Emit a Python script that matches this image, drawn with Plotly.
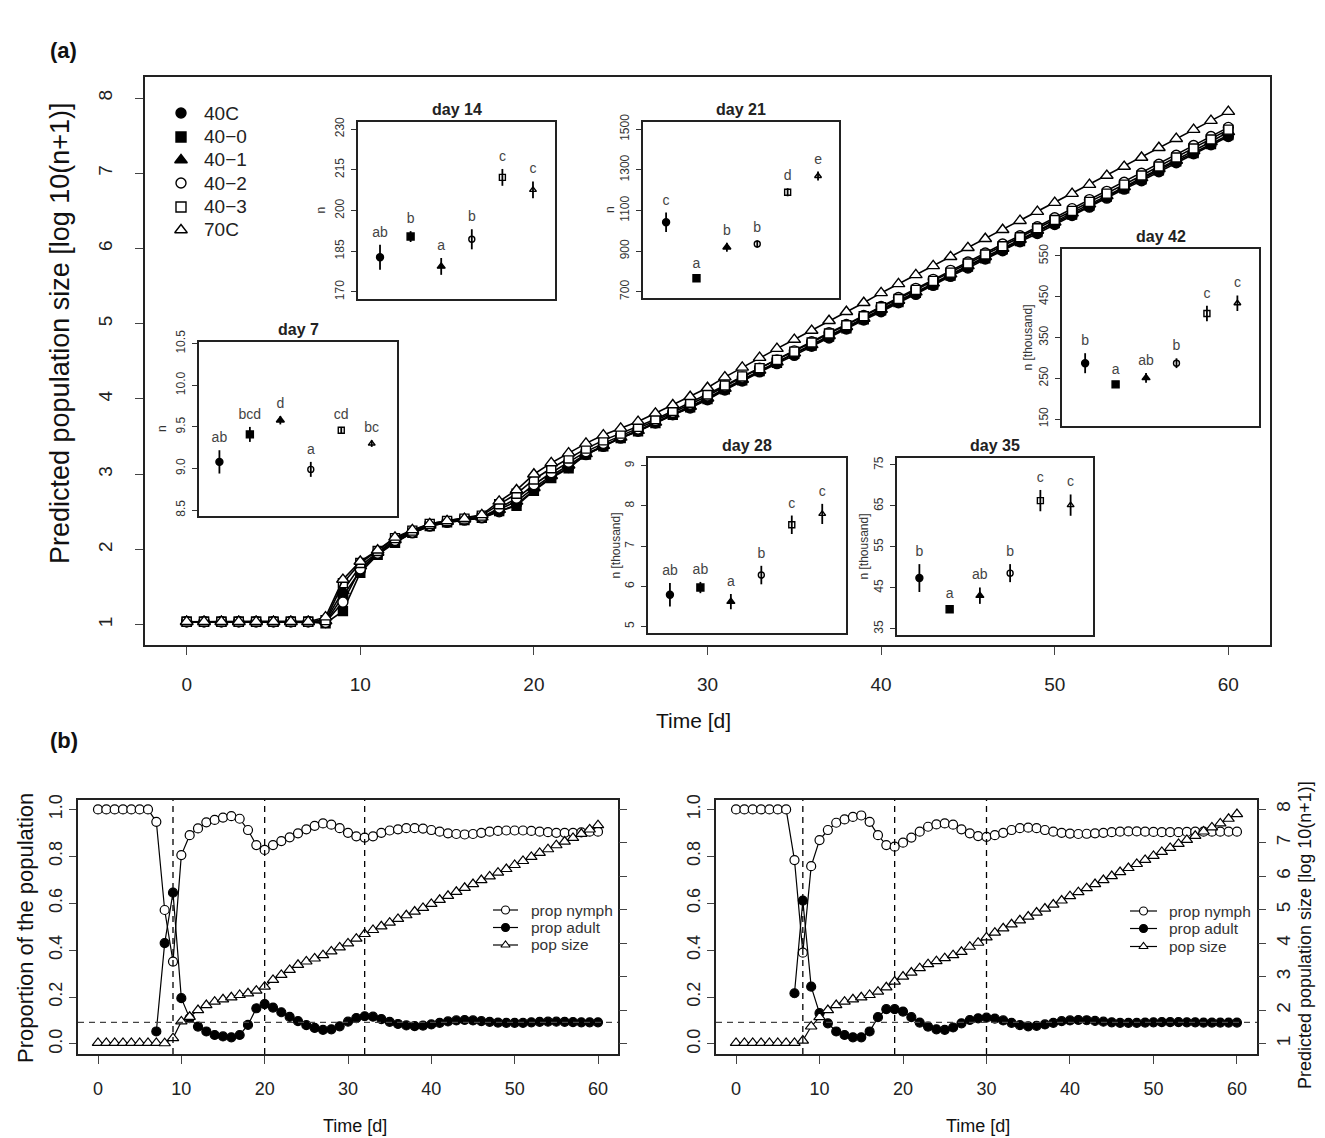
import plotly.graph_objects as go

W, H = 1325, 1138
FONT = "Liberation Sans, Arial, Helvetica, sans-serif"

def px(xp):
    return xp / W

def py(yp):
    return 1 - yp / H

# ---------------- data: panel (a) main curves ----------------
days = list(range(61))
treatments = ["40C", "40-0", "40-1", "40-2", "40-3", "70C"]
legend_labels = ["40C", "40\u22120", "40\u22121", "40\u22122", "40\u22123", "70C"]
symbols = ["circle", "square", "triangle-up", "circle", "square", "triangle-up"]
is_filled = [True, True, True, False, False, False]
main_marker_size = {"circle": 10, "square": 9, "triangle-up": 11}

pop_40C = [1.04, 1.04, 1.04, 1.04, 1.04, 1.04, 1.04, 1.04, 1.03, 1.38, 1.72, 1.94, 2.10, 2.22, 2.31, 2.36, 2.39, 2.42, 2.50, 2.60, 2.79, 2.96, 3.09, 3.26, 3.37, 3.48, 3.57, 3.68, 3.79, 3.88, 3.99, 4.12, 4.24, 4.36, 4.47, 4.58, 4.70, 4.81, 4.93, 5.05, 5.16, 5.28, 5.39, 5.51, 5.63, 5.74, 5.86, 5.97, 6.09, 6.20, 6.32, 6.44, 6.55, 6.67, 6.79, 6.90, 7.02, 7.14, 7.26, 7.38, 7.49]
pop_40_0 = [1.04, 1.04, 1.04, 1.04, 1.04, 1.04, 1.04, 1.04, 1.02, 1.18, 1.69, 1.93, 2.09, 2.22, 2.31, 2.36, 2.39, 2.42, 2.51, 2.58, 2.78, 2.95, 3.08, 3.26, 3.37, 3.48, 3.57, 3.68, 3.79, 3.89, 4.00, 4.13, 4.25, 4.37, 4.48, 4.60, 4.71, 4.83, 4.94, 5.06, 5.18, 5.29, 5.41, 5.52, 5.64, 5.76, 5.87, 5.99, 6.10, 6.22, 6.34, 6.45, 6.57, 6.69, 6.80, 6.92, 7.04, 7.16, 7.27, 7.39, 7.51]
pop_40_1 = [1.04, 1.04, 1.04, 1.04, 1.04, 1.04, 1.04, 1.04, 1.05, 1.45, 1.78, 1.96, 2.13, 2.24, 2.32, 2.37, 2.40, 2.43, 2.53, 2.64, 2.82, 2.98, 3.12, 3.27, 3.38, 3.49, 3.58, 3.69, 3.80, 3.90, 4.01, 4.14, 4.26, 4.38, 4.49, 4.61, 4.72, 4.84, 4.96, 5.07, 5.19, 5.31, 5.42, 5.54, 5.66, 5.77, 5.89, 6.00, 6.12, 6.24, 6.35, 6.47, 6.59, 6.70, 6.82, 6.94, 7.06, 7.17, 7.30, 7.42, 7.55]
pop_40_2 = [1.04, 1.04, 1.04, 1.04, 1.04, 1.04, 1.04, 1.04, 1.03, 1.30, 1.74, 1.95, 2.12, 2.23, 2.32, 2.37, 2.40, 2.43, 2.55, 2.68, 2.86, 3.02, 3.16, 3.30, 3.41, 3.51, 3.60, 3.71, 3.82, 3.93, 4.04, 4.17, 4.29, 4.41, 4.52, 4.64, 4.76, 4.88, 4.99, 5.11, 5.23, 5.35, 5.47, 5.59, 5.71, 5.82, 5.94, 6.06, 6.17, 6.29, 6.41, 6.53, 6.65, 6.76, 6.88, 7.00, 7.12, 7.24, 7.37, 7.49, 7.61]
pop_40_3 = [1.04, 1.04, 1.04, 1.04, 1.04, 1.04, 1.04, 1.04, 1.06, 1.55, 1.82, 1.98, 2.15, 2.25, 2.34, 2.38, 2.41, 2.45, 2.60, 2.74, 2.93, 3.08, 3.21, 3.34, 3.45, 3.54, 3.63, 3.73, 3.84, 3.95, 4.06, 4.18, 4.30, 4.41, 4.52, 4.63, 4.75, 4.87, 4.98, 5.10, 5.22, 5.33, 5.45, 5.57, 5.68, 5.80, 5.92, 6.03, 6.15, 6.27, 6.38, 6.50, 6.62, 6.73, 6.85, 6.97, 7.09, 7.21, 7.33, 7.45, 7.58]
pop_70C = [1.04, 1.04, 1.04, 1.04, 1.04, 1.04, 1.04, 1.04, 1.10, 1.60, 1.84, 1.99, 2.16, 2.26, 2.34, 2.38, 2.41, 2.46, 2.64, 2.79, 3.00, 3.15, 3.28, 3.41, 3.52, 3.61, 3.70, 3.81, 3.92, 4.03, 4.15, 4.29, 4.42, 4.55, 4.67, 4.79, 4.91, 5.04, 5.16, 5.28, 5.41, 5.53, 5.65, 5.77, 5.89, 6.01, 6.13, 6.25, 6.37, 6.49, 6.61, 6.73, 6.85, 6.97, 7.09, 7.21, 7.34, 7.46, 7.58, 7.70, 7.82]
main_series = [pop_40C, pop_40_0, pop_40_1, pop_40_2, pop_40_3, pop_70C]

# ---------------- data: insets ----------------
inset_x = [1, 2, 3, 4, 5, 6]
day7_n = [9.08, 9.41, 9.58, 8.99, 9.46, 9.30]
day7_err = [0.14, 0.09, 0.05, 0.09, 0.04, 0.04]
day7_letters = ["ab", "bcd", "d", "a", "cd", "bc"]
day7_ticks = [8.5, 9.0, 9.5, 10.0, 10.5]
day7_ticktext = ["8.5", "9.0", "9.5", "10.0", "10.5"]

day14_n = [182.8, 190.4, 179.4, 189.4, 212.2, 207.6]
day14_err = [4.6, 2.0, 3.1, 3.7, 3.1, 3.1]
day14_letters = ["ab", "b", "a", "b", "c", "c"]
day14_ticks = [170, 185, 200, 215, 230]

day21_n = [1042, 766, 919, 935, 1190, 1270]
day21_err = [48, 10, 22, 18, 20, 22]
day21_letters = ["c", "a", "b", "b", "d", "e"]
day21_ticks = [700, 900, 1100, 1300, 1500]

day28_n = [5.79, 5.97, 5.62, 6.28, 7.53, 7.80]
day28_err = [0.29, 0.14, 0.19, 0.23, 0.23, 0.25]
day28_letters = ["ab", "ab", "a", "b", "c", "c"]
day28_ticks = [5, 6, 7, 8, 9]

day35_n = [47.4, 39.8, 43.1, 48.6, 66.3, 65.2]
day35_err = [3.4, 0.8, 2.0, 2.2, 2.6, 2.6]
day35_letters = ["b", "a", "ab", "b", "c", "c"]
day35_ticks = [35, 45, 55, 65, 75]

day42_n = [287, 235, 251, 287, 409, 434]
day42_err = [24.5, 7, 12, 12, 19, 19]
day42_letters = ["b", "a", "ab", "b", "c", "c"]
day42_ticks = [150, 250, 350, 450, 550]

# ---------------- data: panel (b) ----------------
nymph_left = [1.0, 1.0, 1.0, 1.0, 1.0, 1.0, 1.0, 0.947, 0.571, 0.351, 0.805, 0.89, 0.919, 0.945, 0.955, 0.965, 0.971, 0.96, 0.912, 0.848, 0.827, 0.848, 0.865, 0.881, 0.898, 0.915, 0.93, 0.94, 0.935, 0.92, 0.90, 0.885, 0.88, 0.885, 0.90, 0.91, 0.915, 0.92, 0.92, 0.918, 0.912, 0.905, 0.898, 0.895, 0.893, 0.895, 0.90, 0.905, 0.908, 0.91, 0.91, 0.91, 0.908, 0.905, 0.903, 0.90, 0.90, 0.90, 0.902, 0.905, 0.905]
adult_days = list(range(7, 61))
adult_left = [0.053, 0.43, 0.645, 0.195, 0.11, 0.074, 0.053, 0.038, 0.032, 0.028, 0.038, 0.081, 0.152, 0.17, 0.155, 0.135, 0.115, 0.097, 0.08, 0.068, 0.06, 0.062, 0.075, 0.095, 0.11, 0.118, 0.116, 0.106, 0.094, 0.085, 0.079, 0.076, 0.078, 0.083, 0.09, 0.096, 0.1, 0.102, 0.1, 0.097, 0.094, 0.091, 0.09, 0.09, 0.09, 0.092, 0.094, 0.095, 0.095, 0.094, 0.093, 0.092, 0.092, 0.092]
popsize_left = [1.03, 1.03, 1.03, 1.03, 1.03, 1.03, 1.03, 1.03, 1.02, 1.17, 1.67, 1.81, 2.01, 2.16, 2.26, 2.33, 2.39, 2.46, 2.51, 2.59, 2.71, 2.91, 3.06, 3.21, 3.36, 3.46, 3.55, 3.65, 3.76, 3.88, 4.00, 4.14, 4.28, 4.40, 4.51, 4.62, 4.73, 4.84, 4.95, 5.06, 5.18, 5.30, 5.42, 5.54, 5.66, 5.77, 5.89, 6.00, 6.11, 6.22, 6.34, 6.46, 6.58, 6.70, 6.81, 6.93, 7.04, 7.15, 7.27, 7.40, 7.53]
vlines_left = [9, 20, 32]

nymph_right = [1.0, 1.0, 1.0, 1.0, 1.0, 1.0, 1.0, 0.784, 0.389, 0.758, 0.869, 0.912, 0.943, 0.957, 0.968, 0.974, 0.947, 0.89, 0.848, 0.841, 0.858, 0.88, 0.905, 0.926, 0.936, 0.94, 0.935, 0.915, 0.898, 0.886, 0.883, 0.89, 0.90, 0.912, 0.92, 0.922, 0.92, 0.912, 0.905, 0.90, 0.897, 0.895, 0.896, 0.898, 0.90, 0.903, 0.905, 0.906, 0.906, 0.905, 0.904, 0.903, 0.903, 0.903, 0.904, 0.905, 0.905, 0.905, 0.905, 0.905, 0.905]
adult_right = [0.216, 0.611, 0.244, 0.131, 0.088, 0.053, 0.038, 0.028, 0.028, 0.053, 0.114, 0.148, 0.148, 0.138, 0.114, 0.091, 0.074, 0.062, 0.06, 0.07, 0.088, 0.102, 0.109, 0.112, 0.108, 0.10, 0.09, 0.08, 0.075, 0.077, 0.083, 0.09, 0.097, 0.10, 0.102, 0.101, 0.098, 0.095, 0.092, 0.09, 0.09, 0.09, 0.091, 0.092, 0.093, 0.093, 0.093, 0.092, 0.092, 0.091, 0.091, 0.091, 0.091, 0.091]
popsize_right = [1.03, 1.03, 1.03, 1.03, 1.03, 1.03, 1.03, 1.03, 1.10, 1.52, 1.80, 2.01, 2.16, 2.26, 2.33, 2.39, 2.46, 2.56, 2.69, 2.86, 3.01, 3.13, 3.26, 3.38, 3.47, 3.56, 3.65, 3.75, 3.90, 4.02, 4.18, 4.32, 4.45, 4.57, 4.69, 4.80, 4.92, 5.04, 5.16, 5.28, 5.41, 5.53, 5.65, 5.77, 5.89, 6.01, 6.13, 6.25, 6.37, 6.49, 6.61, 6.73, 6.85, 6.97, 7.09, 7.21, 7.34, 7.46, 7.58, 7.72, 7.86]
vlines_right = [8, 19, 30]
adult_equilibrium = 0.092

bottom_labels = ["prop nymph", "prop adult", "pop size"]
bottom_symbols = ["circle", "circle", "triangle-up"]
bottom_fill = ["white", "black", "white"]

prop_ticks = [0.0, 0.2, 0.4, 0.6, 0.8, 1.0]
prop_ticktext = ["0.0", "0.2", "0.4", "0.6", "0.8", "1.0"]
pop_ticks = [1, 2, 3, 4, 5, 6, 7, 8]
time_ticks = [0, 10, 20, 30, 40, 50, 60]

fig = go.Figure()
annotations = []
layout_axes = {}

# ---------------- main curves ----------------
for name, sym, filled, vals in zip(treatments, symbols, is_filled, main_series):
    fig.add_trace(go.Scatter(
        x=days, y=vals, mode="lines+markers", showlegend=False, name=name,
        line=dict(color="black", width=1.6),
        marker=dict(symbol=sym, size=main_marker_size[sym],
                    color="black" if filled else "white",
                    line=dict(color="black", width=1.4)),
        xaxis="x", yaxis="y"))

# ---------------- insets ----------------
insets = [
    ("day 7", day7_n, day7_err, day7_letters, [199, 397, 342, 516], [0.33, 6.83], [8.43, 10.52], day7_ticks, day7_ticktext, "n", 162),
    ("day 14", day14_n, day14_err, day14_letters, [358, 555, 122, 299], [0.28, 6.72], [167.4, 232.6], day14_ticks, None, "n", 320),
    ("day 21", day21_n, day21_err, day21_letters, [643, 839, 122, 298], [0.24, 6.69], [669, 1536], day21_ticks, None, "n", 610),
    ("day 28", day28_n, day28_err, day28_letters, [648, 846, 458, 633], [0.28, 6.78], [4.84, 9.19], day28_ticks, None, "n [thousand]", 615),
    ("day 35", day35_n, day35_err, day35_letters, [897, 1093, 458, 635], [0.26, 6.74], [33.5, 76.7], day35_ticks, None, "n [thousand]", 863),
    ("day 42", day42_n, day42_err, day42_letters, [1062, 1259, 249, 426], [0.24, 6.71], [133, 567], day42_ticks, None, "n [thousand]", 1028),
]

for i, (lab, vals, err, letters, box, xr, yr, ticks, ticktext, ytitle, ytx) in enumerate(insets):
    k = i + 2
    xa, ya = "x%d" % k, "y%d" % k
    for j in range(6):
        fig.add_trace(go.Scatter(
            x=[inset_x[j]], y=[vals[j]], mode="markers", showlegend=False,
            error_y=dict(type="data", array=[err[j]], width=0, thickness=1.8, color="black"),
            marker=dict(symbol=symbols[j] if is_filled[j] else symbols[j] + "-open",
                        size=7 if is_filled[j] else 6, color="black",
                        line=dict(color="black", width=1.4)),
            xaxis=xa, yaxis=ya))
    span = yr[1] - yr[0]
    fig.add_trace(go.Scatter(
        x=inset_x, y=[v + e + 0.065 * span for v, e in zip(vals, err)],
        mode="text", text=letters, showlegend=False,
        textfont=dict(size=14, color="#444444", family=FONT),
        textposition="middle center", xaxis=xa, yaxis=ya))
    layout_axes["xaxis%d" % k] = dict(
        domain=[px(box[0]), px(box[1])], range=xr, anchor=ya,
        showticklabels=False, ticks="", showgrid=False, zeroline=False,
        showline=True, mirror=True, linecolor="#222", linewidth=1.6)
    yd = dict(
        domain=[py(box[3]), py(box[2])], range=yr, anchor=xa,
        tickvals=ticks, tickangle=-90, ticks="outside", ticklen=5, tickwidth=1,
        tickcolor="#333", showgrid=False, zeroline=False,
        showline=True, mirror=True, linecolor="#222", linewidth=1.6,
        tickfont=dict(size=12, color="#333", family=FONT), ticklabelstandoff=2)
    if ticktext is not None:
        yd["ticktext"] = ticktext
    layout_axes["yaxis%d" % k] = yd
    annotations.append(dict(
        text="<b>%s</b>" % lab, x=px((box[0] + box[1]) / 2), y=py(box[2] - 2),
        xref="paper", yref="paper", xanchor="center", yanchor="bottom",
        showarrow=False, font=dict(size=16, color="#222", family=FONT)))
    annotations.append(dict(
        text=ytitle, x=px(ytx), y=py((box[2] + box[3]) / 2), textangle=-90,
        xref="paper", yref="paper", xanchor="center", yanchor="middle",
        showarrow=False, font=dict(size=12, color="#333", family=FONT)))

# ---------------- panel (b) ----------------
def add_bottom(xa, ya_prop, ya_pop, nymph, adult, popsize):
    fig.add_trace(go.Scatter(
        x=days, y=nymph, mode="lines+markers", showlegend=False,
        line=dict(color="black", width=1.2),
        marker=dict(symbol="circle", size=9, color="white", line=dict(color="black", width=1.2)),
        xaxis=xa, yaxis=ya_prop))
    fig.add_trace(go.Scatter(
        x=adult_days, y=adult, mode="lines+markers", showlegend=False,
        line=dict(color="black", width=1.2),
        marker=dict(symbol="circle", size=9, color="black", line=dict(color="black", width=1.2)),
        xaxis=xa, yaxis=ya_prop))
    fig.add_trace(go.Scatter(
        x=days, y=popsize, mode="lines+markers", showlegend=False,
        line=dict(color="black", width=1.2),
        marker=dict(symbol="triangle-up", size=10, color="white", line=dict(color="black", width=1.2)),
        xaxis=xa, yaxis=ya_pop))

add_bottom("x8", "y8", "y9", nymph_left, adult_left, popsize_left)
add_bottom("x9", "y10", "y11", nymph_right, adult_right, popsize_right)

shapes = []
for xa, ya, vl in [("x8", "y8", vlines_left), ("x9", "y10", vlines_right)]:
    for v in vl:
        shapes.append(dict(type="line", xref=xa, yref=ya + " domain", x0=v, x1=v, y0=0, y1=1,
                           line=dict(color="black", width=1.3, dash="6px,5px")))
    shapes.append(dict(type="line", xref=xa + " domain", yref=ya, x0=0, x1=1,
                       y0=adult_equilibrium, y1=adult_equilibrium,
                       line=dict(color="#444", width=1.3, dash="6px,5px")))

# ---------------- legends (keys drawn on a hidden full-page pixel axis) ----------------
main_leg_rows = [113, 137, 160, 183, 207, 230]
for lab, sym, filled, ry in zip(legend_labels, symbols, is_filled, main_leg_rows):
    fig.add_trace(go.Scatter(
        x=[181], y=[ry], mode="markers", showlegend=False,
        marker=dict(symbol=sym if filled else sym + "-open", size=10 if sym != "triangle-up" else 11,
                    color="black", line=dict(color="black", width=1.4)),
        xaxis="x10", yaxis="y12", hoverinfo="skip"))
    annotations.append(dict(text=lab, x=px(202), y=py(ry), xref="paper", yref="paper",
                            xanchor="left", yanchor="middle", showarrow=False,
                            font=dict(size=19, color="#222", family=FONT)))

for (x0, x1, tx, rows) in [(493, 518, 529, [910, 927.5, 945]), (1130, 1157, 1167, [911, 928.5, 946.5])]:
    for lab, sym, fill, ry in zip(bottom_labels, bottom_symbols, bottom_fill, rows):
        fig.add_trace(go.Scatter(
            x=[x0, x1], y=[ry, ry], mode="lines", showlegend=False,
            line=dict(color="black", width=1.2), xaxis="x10", yaxis="y12", hoverinfo="skip"))
        fig.add_trace(go.Scatter(
            x=[(x0 + x1) / 2], y=[ry], mode="markers", showlegend=False,
            marker=dict(symbol=sym, size=8, color=fill, line=dict(color="black", width=1.1)),
            xaxis="x10", yaxis="y12", hoverinfo="skip"))
        annotations.append(dict(text=lab, x=px(tx), y=py(ry), xref="paper", yref="paper",
                                xanchor="left", yanchor="middle", showarrow=False,
                                font=dict(size=15.5, color="#333", family=FONT)))

layout_axes["xaxis10"] = dict(domain=[0, 1], range=[0, W], visible=False, anchor="y12",
                              fixedrange=True)
layout_axes["yaxis12"] = dict(domain=[0, 1], range=[H, 0], visible=False, anchor="x10",
                              fixedrange=True)

prop_range = [-0.043, 1.04]
pop_range = [1 + 7 * prop_range[0], 1 + 7 * prop_range[1]]

common_x_bottom = dict(range=[-2.4, 62.4], tickvals=time_ticks, ticks="outside", ticklen=8,
                       tickwidth=1.2, showgrid=False, zeroline=False, showline=True, mirror=True,
                       linecolor="#222", linewidth=1.7,
                       tickfont=dict(size=18, color="#222", family=FONT), ticklabelstandoff=10)

layout_axes["xaxis8"] = dict(domain=[px(78), px(618)], anchor="y8", **common_x_bottom)
layout_axes["yaxis8"] = dict(domain=[py(1054), py(800)], anchor="x8", range=prop_range,
                             tickvals=prop_ticks, ticktext=prop_ticktext, tickangle=-90,
                             ticks="outside", ticklen=7, tickwidth=1.2, showgrid=False,
                             zeroline=False, showline=True, mirror=True, linecolor="#222",
                             linewidth=1.7, tickfont=dict(size=18, color="#222", family=FONT),
                             ticklabelstandoff=0)
layout_axes["yaxis9"] = dict(overlaying="y8", anchor="x8", side="right", range=pop_range,
                             tickvals=pop_ticks, showticklabels=False, ticks="outside",
                             ticklen=8, tickwidth=1.2, showgrid=False, zeroline=False,
                             showline=False)
layout_axes["xaxis9"] = dict(domain=[px(716), px(1257)], anchor="y10", **common_x_bottom)
layout_axes["yaxis10"] = dict(domain=[py(1054), py(800)], anchor="x9", range=prop_range,
                              tickvals=prop_ticks, ticktext=prop_ticktext, tickangle=-90,
                              ticks="outside", ticklen=7, tickwidth=1.2, showgrid=False,
                              zeroline=False, showline=True, mirror=True, linecolor="#222",
                              linewidth=1.7, tickfont=dict(size=18, color="#222", family=FONT),
                              ticklabelstandoff=0)
layout_axes["yaxis11"] = dict(overlaying="y10", anchor="x9", side="right", range=pop_range,
                              tickvals=pop_ticks, tickangle=-90, ticks="outside",
                              ticklen=8, tickwidth=1.2, showgrid=False, zeroline=False,
                              showline=False, tickfont=dict(size=19, color="#222", family=FONT),
                              ticklabelstandoff=1)

# ---------------- main axes ----------------
layout_axes["xaxis"] = dict(domain=[px(145), px(1270)], range=[-2.4, 62.4], anchor="y",
                            tickvals=time_ticks, ticks="outside", ticklen=8, tickwidth=1.2,
                            showgrid=False, zeroline=False, showline=True, mirror=True,
                            linecolor="#222", linewidth=1.9,
                            tickfont=dict(size=19, color="#222", family=FONT), ticklabelstandoff=13)
layout_axes["yaxis"] = dict(domain=[py(645), py(77)], range=[0.73, 8.28], anchor="x",
                            tickvals=pop_ticks, tickangle=-90, ticks="outside", ticklen=8,
                            tickwidth=1.2, showgrid=False, zeroline=False, showline=True,
                            mirror=True, linecolor="#222", linewidth=1.9,
                            tickfont=dict(size=19, color="#222", family=FONT), ticklabelstandoff=15)

# ---------------- text ----------------
def ann(text, x, y, size, angle=0, bold=False, xanchor="center"):
    annotations.append(dict(text="<b>%s</b>" % text if bold else text, x=px(x), y=py(y),
                            xref="paper", yref="paper", xanchor=xanchor, yanchor="middle",
                            textangle=angle, showarrow=False,
                            font=dict(size=size, color="#111", family=FONT)))

ann("(a)", 48, 50, 22, bold=True, xanchor="left")
ann("(b)", 48, 740, 22, bold=True, xanchor="left")
ann("Predicted population size [log 10(n+1)]", 60, 333, 27, angle=-90)
ann("Time [d]", 693, 720, 21)
ann("Proportion of the population", 25, 928, 22, angle=-90)
ann("Time [d]", 355, 1126, 18)
ann("Time [d]", 978, 1126, 18)
ann("Predicted population size [log 10(n+1)]", 1305, 935, 18, angle=-90)

fig.update_layout(
    width=W, height=H, autosize=False,
    margin=dict(l=0, r=0, t=0, b=0, autoexpand=False),
    paper_bgcolor="white", plot_bgcolor="rgba(0,0,0,0)",
    font=dict(family=FONT, color="#222"),
    showlegend=False,
    annotations=annotations, shapes=shapes,
    **layout_axes,
)

fig.write_html(
    "out.html",
    config={"responsive": False, "displayModeBar": False},
    post_script="document.body.style.margin='0';document.body.style.padding='0';"
                "document.documentElement.style.overflow='hidden';",
)
